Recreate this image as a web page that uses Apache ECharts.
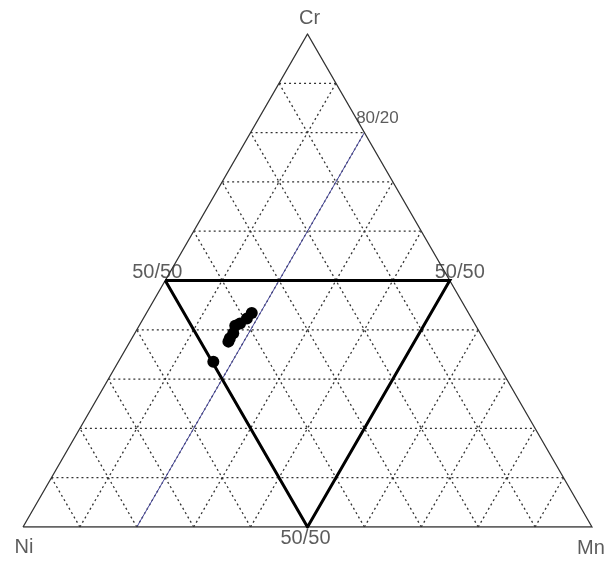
<!DOCTYPE html>
<html>
<head>
<meta charset="utf-8">
<script src="https://cdn.jsdelivr.net/npm/echarts@6/dist/echarts.min.js"></script>
<style>html,body{margin:0;padding:0;background:#fff}#c{width:608px;height:561px}</style>
</head>
<body>
<div id="c"></div>
<script>
// Ternary data (percent): Ni, Mn, Cr
var crValues = [43.4, 42.3, 41.3, 40.8, 39.3, 38.3, 37.6, 33.5];
var mnValues = [18.5, 18.2, 17.5, 16.9, 17.3, 17.2, 17.3, 16.7];
var niValues = crValues.map(function (c, i) { return +(100 - c - mnValues[i]).toFixed(1); });
var gridTicksAll = [10, 20, 30, 40, 50, 60, 70, 80, 90];
var vertexLabels = ['Ni', 'Mn', 'Cr'];
var midLabel = '50/50';
var refLineMn = 20; // constant Mn line
var refLabel = '80/20';

var H = Math.sqrt(3) / 2;
function tern(ni, mn, cr) {
  var s = ni + mn + cr;
  ni /= s; mn /= s; cr /= s;
  return [mn + cr / 2, cr * H];
}

var gridLines = [];
gridTicksAll.forEach(function (t) {
  var u = 100 - t;
  gridLines.push({ coords: [tern(u, 0, t), tern(0, u, t)] });   // Cr = t
  gridLines.push({ coords: [tern(u, t, 0), tern(0, t, u)] });   // Mn = t
  gridLines.push({ coords: [tern(t, u, 0), tern(t, 0, u)] });   // Ni = t
});

var outer = [{ coords: [tern(100, 0, 0), tern(0, 100, 0), tern(0, 0, 100), tern(100, 0, 0)] }];
var inner = [{ coords: [tern(50, 0, 50), tern(0, 50, 50), tern(50, 50, 0), tern(50, 0, 50)] }];
var refLine = [{ coords: [tern(100 - refLineMn, refLineMn, 0), tern(0, refLineMn, 100 - refLineMn)] }];

var pts = crValues.map(function (c, i) { return tern(niValues[i], mnValues[i], c); });

function lab(text, pos, dx, dy, size) {
  return {
    value: pos,
    label: { show: true, formatter: text, position: 'inside', offset: [dx, dy],
      fontSize: size, color: '#333', fontFamily: 'Liberation Sans, Arial, sans-serif' }
  };
}
var labels = [
  lab(vertexLabels[0], tern(100, 0, 0), 1, 20, 20),
  lab(vertexLabels[1], tern(0, 100, 0), -1, 21, 20),
  lab(vertexLabels[2], tern(0, 0, 100), 2, -16, 20),
  lab(midLabel, tern(50, 0, 50), -8, -8, 20),
  lab(midLabel, tern(0, 50, 50), 10, -8, 20),
  lab(midLabel, tern(50, 50, 0), -2, 11, 20),
  lab(refLabel, tern(0, refLineMn, 100 - refLineMn), 13, -14, 17)
];

var chart = echarts.init(document.getElementById('c'), null, { renderer: 'canvas' });
chart.setOption({
  animation: false,
  backgroundColor: '#fff',
  grid: { left: 23, top: 34, width: 569, height: 493 },
  xAxis: { type: 'value', min: 0, max: 1, show: false },
  yAxis: { type: 'value', min: 0, max: H, show: false },
  series: [
    { type: 'lines', coordinateSystem: 'cartesian2d', polyline: true, silent: true,
      data: gridLines, lineStyle: { color: '#333', width: 1.3, type: [2, 3], opacity: 1 } },
    { type: 'lines', coordinateSystem: 'cartesian2d', polyline: true, silent: true,
      data: refLine, lineStyle: { color: '#4a4aa0', width: 1, opacity: 1 } },
    { type: 'lines', coordinateSystem: 'cartesian2d', polyline: true, silent: true,
      data: outer, lineStyle: { color: '#333', width: 1.3, opacity: 1 } },
    { type: 'lines', coordinateSystem: 'cartesian2d', polyline: true, silent: true,
      data: inner, lineStyle: { color: '#000', width: 3, opacity: 1, join: 'miter' } },
    { type: 'scatter', data: pts, symbolSize: 12, itemStyle: { color: '#000', opacity: 1 }, silent: true },
    { type: 'scatter', data: labels, symbolSize: 0, silent: true }
  ]
});
</script>
</body>
</html>
